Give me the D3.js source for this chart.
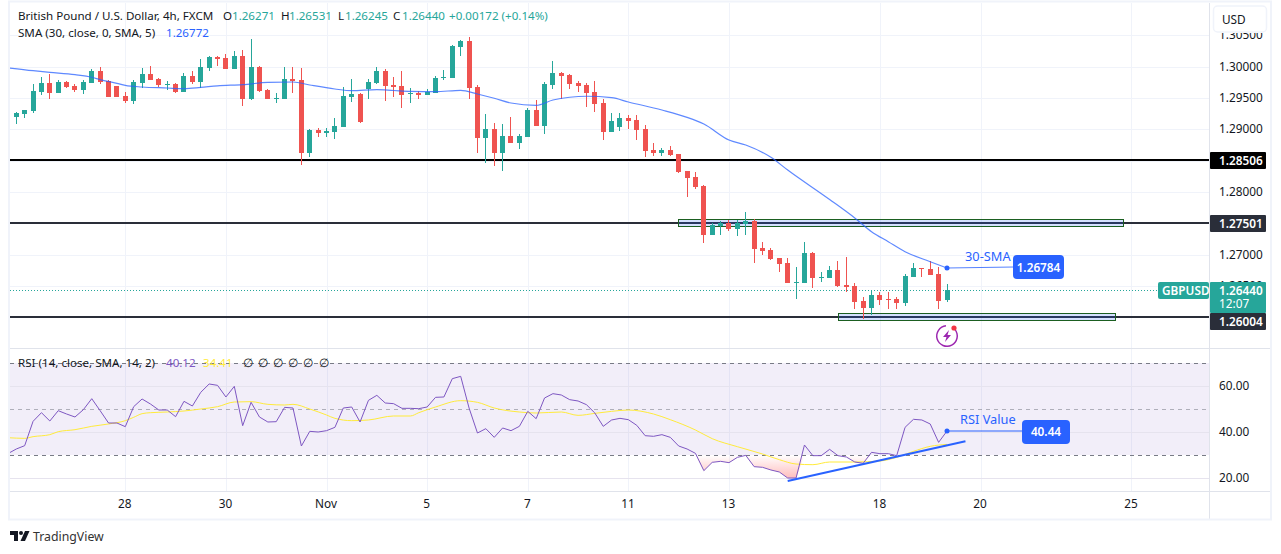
<!DOCTYPE html>
<html>
<head>
<meta charset="utf-8">
<title>GBPUSD 4h</title>
<script src="https://cdn.jsdelivr.net/npm/d3@7"></script>
<style>
html, body { margin: 0; padding: 0; background: #fff; }
svg { display: block; }
text { font-family: "Noto Sans", sans-serif; fill: #131722; }
</style>
</head>
<body>
<svg id="chart" width="1281" height="554"></svg>
<script>
// candles, one entry per 4h bar
var opens = [1.29194,1.29242,1.29290,1.29593,1.29737,1.29577,1.29753,1.29689,1.29625,1.29737,1.29928,1.29769,1.29689,1.29529,1.29449,1.29737,
  1.29880,1.29801,1.29705,1.29721,1.29593,1.29848,1.29753,1.29976,1.30152,1.30136,1.29960,1.30167,1.29481,1.29992,1.29625,1.29481,
  1.29481,1.29801,1.29785,1.28620,1.28987,1.28939,1.28955,1.29034,1.29513,1.29561,1.29641,1.29737,1.29928,1.29705,1.29689,1.29566,
  1.29577,1.29545,1.29577,1.29817,1.29817,1.30311,1.30407,1.29673,1.28859,1.29003,1.28620,1.28891,1.28779,1.28875,1.29306,1.29051,
  1.29705,1.29896,1.29864,1.29737,1.29705,1.29593,1.29418,1.28955,1.29035,1.29178,1.29146,1.29003,1.28668,1.28620,1.28668,1.28604,
  1.28333,1.28237,1.28093,1.27311,1.27455,1.27503,1.27407,1.27487,1.27535,1.27104,1.27072,1.26944,1.26864,1.26545,1.26545,1.27024,
  1.26625,1.26625,1.26753,1.26513,1.26497,1.26258,1.26147,1.26354,1.26290,1.26290,1.26226,1.26641,1.26785,1.26769,1.26689,1.26271];
var highs = [1.29279,1.29306,1.29721,1.29832,1.29880,1.29785,1.29769,1.29721,1.29785,1.29960,1.29992,1.29785,1.29689,1.29593,1.29785,1.29976,
  1.30008,1.29817,1.29769,1.29737,1.29896,1.29928,1.30120,1.30167,1.30167,1.30199,1.30247,1.30263,1.30439,1.30008,1.29641,1.29577,
  1.29992,1.29992,1.29976,1.29003,1.29018,1.29018,1.29178,1.29673,1.29801,1.29577,1.29801,1.29992,1.29960,1.29832,1.29928,1.29657,
  1.29609,1.29641,1.29848,1.29944,1.30343,1.30423,1.30471,1.29705,1.29242,1.29098,1.29082,1.29194,1.28923,1.29338,1.29465,1.29753,
  1.30088,1.29912,1.29880,1.29769,1.29737,1.29769,1.29481,1.29258,1.29258,1.29226,1.29226,1.29067,1.28779,1.28700,1.28731,1.28604,
  1.28333,1.28317,1.28109,1.27503,1.27535,1.27551,1.27551,1.27678,1.27567,1.27200,1.27104,1.26944,1.26944,1.26801,1.27200,1.27040,
  1.26721,1.26817,1.26896,1.26960,1.26545,1.26322,1.26434,1.26402,1.26402,1.26322,1.26689,1.26864,1.26785,1.26896,1.26801,1.26531];
var lows = [1.29082,1.29178,1.29258,1.29545,1.29481,1.29577,1.29657,1.29593,1.29561,1.29737,1.29721,1.29513,1.29513,1.29418,1.29402,1.29657,
  1.29785,1.29673,1.29625,1.29577,1.29593,1.29721,1.29657,1.29928,1.30008,1.29960,1.29960,1.29370,1.29465,1.29593,1.29481,1.29418,
  1.29481,1.29577,1.28428,1.28556,1.28875,1.28875,1.28843,1.29034,1.29433,1.29098,1.29481,1.29721,1.29449,1.29513,1.29338,1.29418,
  1.29481,1.29545,1.29577,1.29785,1.29817,1.30167,1.29481,1.28620,1.28460,1.28412,1.28333,1.28779,1.28684,1.28875,1.29051,1.28923,
  1.29641,1.29481,1.29641,1.29593,1.29354,1.29274,1.28827,1.28955,1.28971,1.29003,1.28827,1.28556,1.28572,1.28572,1.28572,1.28301,
  1.27918,1.28045,1.27184,1.27311,1.27311,1.27375,1.27295,1.27311,1.26864,1.26992,1.26912,1.26721,1.26545,1.26290,1.26545,1.26466,
  1.26561,1.26625,1.26481,1.26402,1.26130,1.25971,1.26035,1.26194,1.26130,1.26130,1.26178,1.26641,1.26641,1.26673,1.26130,1.26245];
var closes = [1.29258,1.29306,1.29609,1.29737,1.29577,1.29753,1.29673,1.29625,1.29753,1.29928,1.29753,1.29513,1.29513,1.29449,1.29753,1.29880,
  1.29785,1.29705,1.29721,1.29593,1.29848,1.29753,1.29992,1.30152,1.30125,1.29960,1.30167,1.29481,1.29992,1.29609,1.29481,1.29497,
  1.29801,1.29763,1.28620,1.28987,1.28939,1.28971,1.29050,1.29529,1.29561,1.29114,1.29753,1.29928,1.29689,1.29673,1.29545,1.29582,
  1.29545,1.29593,1.29817,1.29832,1.30327,1.30407,1.29657,1.28859,1.29003,1.28620,1.28891,1.28779,1.28891,1.29306,1.29051,1.29721,
  1.29896,1.29848,1.29721,1.29689,1.29577,1.29402,1.28955,1.29130,1.29178,1.29130,1.28987,1.28652,1.28620,1.28668,1.28588,1.28317,
  1.28221,1.28077,1.27311,1.27471,1.27503,1.27407,1.27503,1.27535,1.27088,1.27056,1.26928,1.26849,1.26545,1.26561,1.27024,1.26625,
  1.26641,1.26753,1.26497,1.26481,1.26242,1.26147,1.26354,1.26274,1.26274,1.26226,1.26657,1.26785,1.26769,1.26673,1.26258,1.26440];

// 30-SMA, read at these bars
var smaBars = [-1,2,4,7,9,10,12,13,15,18,20,22,24,27,30,33,35,38,40,43,45,47,50,53,55,57,59,62,64,66,68,71,73,77,80,82,85,87,90,92,97,100,102,104,106,109,111];
var smaVals = [1.29979,1.29933,1.29907,1.29869,1.29828,1.29791,1.29732,1.29698,1.29673,1.29657,1.29646,1.29666,1.29692,1.29710,1.29748,1.29753,1.29705,1.29641,1.29614,1.29630,1.29617,1.29604,1.29598,1.29620,1.29561,1.29493,1.29418,1.29381,1.29465,1.29509,1.29525,1.29502,1.29434,1.29306,1.29189,1.29082,1.28827,1.28747,1.28551,1.28348,1.27878,1.27583,1.27364,1.27204,1.27045,1.26885,1.26784];

// RSI per bar, first entry is the bar before the first candle
var rsiVals = [30.58,32.61,34.06,44.64,48.40,44.78,49.27,47.82,46.52,49.71,54.49,49.27,43.91,43.91,42.32,51.01,54.35,52.17,49.56,49.56,46.67,53.33,51.30,57.25,60.87,60.29,55.22,59.85,42.75,52.90,46.52,44.35,44.49,50.72,50.43,33.91,40.29,40.00,40.58,42.03,50.43,50.87,44.35,53.77,55.94,52.61,52.32,50.29,50.29,50.14,
  50.87,55.07,55.22,63.19,64.20,50.43,39.56,41.45,37.68,41.74,40.58,42.46,48.98,45.80,54.78,56.67,56.09,54.06,53.48,51.88,48.26,42.46,45.22,45.94,45.36,42.90,38.40,38.12,38.84,37.68,33.91,32.61,30.72,23.19,26.81,27.25,26.67,28.98,29.85,24.93,24.64,23.48,22.61,20.00,20.00,34.35,29.71,29.71,32.46,29.71,29.13,26.96,26.38,31.16,30.58,30.58,29.71,42.03,45.51,45.22,43.48,35.50,40.44];

// RSI moving average, read at these bars
var maBars = [-1,1,2,4,5,7,9,11,13,14,15,16,18,20,22,24,26,28,30,32,33,35,37,38,40,42,45,47,48,50,53,55,57,60,62,65,67,69,71,73,76,78,81,83,86,89,91,93,95,97,100,103,105,107,109,111];
var maVals = [37.53,37.24,37.97,38.84,40.14,41.01,42.46,43.48,44.93,46.38,47.97,48.40,48.69,49.13,50.00,51.01,53.04,53.19,52.03,51.74,52.03,50.00,47.39,45.94,44.93,45.22,46.96,46.96,48.40,50.87,53.62,52.90,50.43,48.69,48.26,48.69,47.24,48.11,48.98,49.56,47.82,45.36,40.87,37.10,33.62,30.43,27.97,26.08,25.79,26.95,26.95,27.39,28.98,31.59,33.77,34.60];

// axes
var priceTicks = [1.305,1.30,1.295,1.29,1.28,1.27,1.265];
var priceGrid = [1.305,1.30,1.295,1.29,1.285,1.28,1.275,1.27,1.265,1.26];
var rsiTicks = [60,40,20];
var timeBars = [13,25,37,49,61,73,85,103,115,133];
var timeLabels = ["28","30","Nov","5","7","11","13","18","20","25"];

// drawings
var levels = [1.28506,1.27501,1.26004];
var levelColors = ["#000000","#2a2e39","#2a2e39"];
var lastPrice = 1.2644;

var paneL = 10, paneR = 1209, paneT = 3, paneB = 348, rsiB = 491, axisB = 519;

var x = d3.scaleLinear().domain([0,111]).range([16.3,947]);
var y = d3.scaleLinear().domain([1.30,1.27]).range([66.5,254.5]);
var yRsi = d3.scaleLinear().domain([60,20]).range([386,478]);

var svg = d3.select("#chart");
var defs = svg.append("defs");
defs.append("clipPath").attr("id","mainClip").append("rect")
  .attr("x",paneL).attr("y",paneT).attr("width",paneR-paneL).attr("height",paneB-paneT);
defs.append("clipPath").attr("id","rsiClip").append("rect")
  .attr("x",paneL).attr("y",paneB).attr("width",paneR-paneL).attr("height",rsiB-paneB);
var grad = defs.append("linearGradient").attr("id","oversold")
  .attr("gradientUnits","userSpaceOnUse").attr("x1",0).attr("x2",0).attr("y1",yRsi(30)).attr("y2",yRsi(20));
grad.append("stop").attr("offset",0).attr("stop-color","#ff5252").attr("stop-opacity",0);
grad.append("stop").attr("offset",1).attr("stop-color","#ff5252").attr("stop-opacity",0.38);

var snap = function(v){ return Math.round(v)+0.5; };

// vertical and horizontal grid
svg.append("g").selectAll("line").data(timeBars).enter().append("line")
  .attr("x1",function(d){ return snap(x(d)); }).attr("x2",function(d){ return snap(x(d)); })
  .attr("y1",paneT).attr("y2",rsiB).attr("stroke","#f0f3fa");
svg.append("g").selectAll("line").data(priceGrid).enter().append("line")
  .attr("x1",paneL).attr("x2",paneR)
  .attr("y1",function(d){ return snap(y(d)); }).attr("y2",function(d){ return snap(y(d)); })
  .attr("stroke","#f0f3fa");

// rsi band
svg.append("rect").attr("x",paneL).attr("width",paneR-paneL)
  .attr("y",yRsi(70)).attr("height",yRsi(30)-yRsi(70)).attr("fill","#7e57c2").attr("opacity",0.1);
svg.append("g").selectAll("line").data(rsiTicks).enter().append("line")
  .attr("x1",paneL).attr("x2",paneR)
  .attr("y1",function(d){ return snap(yRsi(d)); }).attr("y2",function(d){ return snap(yRsi(d)); })
  .attr("stroke","#e6e3ee");
svg.append("g").selectAll("line").data([70,50,30]).enter().append("line")
  .attr("x1",paneL).attr("x2",paneR)
  .attr("y1",function(d){ return snap(yRsi(d)); }).attr("y2",function(d){ return snap(yRsi(d)); })
  .attr("stroke","#787b86").attr("stroke-dasharray","4 4").attr("stroke-opacity",function(d){ return d==50 ? 0.55 : 1; });

// support and resistance zones and lines
var zones = svg.append("g").attr("clip-path","url(#mainClip)");
zones.selectAll("line").data(levels).enter().append("line")
  .attr("x1",paneL).attr("x2",paneR)
  .attr("y1",function(d){ return y(d); }).attr("y2",function(d){ return y(d); })
  .attr("stroke",function(d,i){ return levelColors[i]; }).attr("stroke-width",2);
zones.append("rect").attr("x",678.5).attr("y",219.5).attr("width",445).attr("height",7)
  .attr("fill","#2962ff").attr("fill-opacity",0.2).attr("stroke","#1b5e20");
zones.append("rect").attr("x",838.5).attr("y",313.5).attr("width",277).attr("height",7)
  .attr("fill","#2962ff").attr("fill-opacity",0.2).attr("stroke","#1b5e20");

// last price dotted line
svg.append("line").attr("x1",paneL).attr("x2",1158)
  .attr("y1",snap(y(lastPrice))).attr("y2",snap(y(lastPrice)))
  .attr("stroke","#26a69a").attr("stroke-dasharray","1 2");

// candles
var bars = svg.append("g").attr("clip-path","url(#mainClip)")
  .selectAll("g").data(d3.range(opens.length)).enter().append("g")
  .attr("shape-rendering","crispEdges")
  .attr("fill",function(i){ return closes[i] >= opens[i] ? "#26a69a" : "#ef5350"; });
bars.append("rect")
  .attr("x",function(i){ return Math.round(x(i)-0.5); }).attr("width",1)
  .attr("y",function(i){ return y(highs[i]); })
  .attr("height",function(i){ return y(lows[i])-y(highs[i]); });
bars.append("rect")
  .attr("x",function(i){ return Math.round(x(i)-0.5)-2; }).attr("width",5)
  .attr("y",function(i){ return y(Math.max(opens[i],closes[i])); })
  .attr("height",function(i){ return Math.max(1,Math.abs(y(opens[i])-y(closes[i]))); });

// sma line
var smaLine = d3.line()
  .x(function(d){ return x(smaBars[d]); })
  .y(function(d){ return y(smaVals[d]); })
  .curve(d3.curveMonotoneX);
svg.append("path").attr("clip-path","url(#mainClip)").datum(d3.range(smaBars.length))
  .attr("d",smaLine).attr("fill","none").attr("stroke","#2962ff").attr("stroke-opacity",0.75).attr("stroke-width",1.2);

// rsi oversold fill, ma and rsi
var rsiClip = svg.append("g").attr("clip-path","url(#rsiClip)");
var area = d3.area()
  .x(function(d,k){ return x(k-1); })
  .y0(yRsi(30))
  .y1(function(d){ return yRsi(Math.min(d,30)); });
rsiClip.append("path").datum(rsiVals).attr("d",area).attr("fill","url(#oversold)");
var maLine = d3.line()
  .x(function(d){ return x(maBars[d]); })
  .y(function(d){ return yRsi(maVals[d]); })
  .curve(d3.curveMonotoneX);
rsiClip.append("path").datum(d3.range(maBars.length)).attr("d",maLine)
  .attr("fill","none").attr("stroke","#ffeb3b").attr("stroke-width",1);
var rsiLine = d3.line()
  .x(function(d,k){ return x(k-1); })
  .y(function(d){ return yRsi(d); });
rsiClip.append("path").datum(rsiVals).attr("d",rsiLine)
  .attr("fill","none").attr("stroke","#7e57c2").attr("stroke-width",1);

// trend line on rsi
svg.append("line")
  .attr("x1",x(92.0)).attr("y1",yRsi(18.7))
  .attr("x2",x(113.2)).attr("y2",yRsi(36))
  .attr("stroke","#2962ff").attr("stroke-width",2);

// frame
var frame = svg.append("g").attr("stroke","#e0e3eb").attr("fill","none");
frame.append("line").attr("x1",paneL).attr("x2",1271).attr("y1",paneB+0.5).attr("y2",paneB+0.5);
frame.append("line").attr("x1",paneL).attr("x2",1271).attr("y1",rsiB+0.5).attr("y2",rsiB+0.5);
frame.append("line").attr("x1",paneR+0.5).attr("x2",paneR+0.5).attr("y1",paneT).attr("y2",axisB);
svg.append("rect").attr("x",9).attr("y",1.5).attr("width",1262).attr("height",518)
  .attr("fill","none").attr("stroke","#f0f3fa").attr("stroke-width",2);

// axes
var priceAxis = d3.axisRight(y).tickValues(priceTicks).tickFormat(d3.format(".5f")).tickSize(0).tickPadding(0);
var rsiAxis = d3.axisRight(yRsi).tickValues(rsiTicks).tickFormat(d3.format(".2f")).tickSize(0).tickPadding(0);
var timeAxis = d3.axisBottom(x).tickValues(timeBars).tickFormat(function(d,i){ return timeLabels[i]; }).tickSize(0).tickPadding(0);
var axisFont = 11.8;
[svg.append("g").attr("transform","translate(1219,0)").call(priceAxis),
 svg.append("g").attr("transform","translate(1219,0)").call(rsiAxis),
 svg.append("g").attr("transform","translate(-1,500)").call(timeAxis)].forEach(function(g){
  g.select(".domain").remove();
  g.selectAll("text").attr("font-family",null).style("font-size",axisFont+"px").style("fill","#131722");
});

// price tags on the axis
var tag = function(left,top,w,h,color,radius){
  svg.append("rect").attr("x",left).attr("y",top).attr("width",w).attr("height",h)
    .attr("rx",radius).attr("ry",radius).attr("fill",color);
};
var tagText = function(px,py,str,size,weight,anchor,color){
  svg.append("text").attr("x",px).attr("y",py).text(str)
    .style("font-size",size+"px").style("font-weight",weight||400)
    .style("text-anchor",anchor||"start").style("fill",color||"#fff");
};
// top two levels sit on their own line, the last one is pushed below the price tag
[152,215,313].forEach(function(top,i){
  tag(1210,top,56,17,levelColors[i],1);
  tagText(1219,top+13,d3.format(".5f")(levels[i]),11.8,600);
});
tag(1210,282,56,31,"#26a69a",1);
tag(1158,282,51,17,"#26a69a",2);
tagText(1162,295,"GBPUSD",11.8,600);
tagText(1219,295,"1.26440",11.8,600);
tagText(1219,308,"12:07",11.8,400);

// currency button, hides the top half of the 1.30500 label
svg.append("rect").attr("x",1210).attr("y",3).attr("width",60).attr("height",30).attr("fill","#fff");
svg.append("rect").attr("x",1213.5).attr("y",6).attr("width",53).attr("height",26)
  .attr("rx",4).attr("fill","#fff").attr("stroke","#f0f3fa").attr("stroke-width",1.5);
tagText(1222,24,"USD",11.8,400,"start","#131722");

// annotations
svg.append("line").attr("x1",x(111)).attr("x2",1014).attr("y1",268).attr("y2",267)
  .attr("stroke","#2962ff").attr("stroke-opacity",0.8).attr("stroke-width",1);
svg.append("circle").attr("cx",x(111)).attr("cy",y(smaVals[smaVals.length-1])).attr("r",2.5).attr("fill","#2962ff");
tagText(965,261,"30-SMA",12.8,400,"start","#2962ff");
tag(1013,255,51,24,"#2962ff",4);
tagText(1038.5,271.5,"1.26784",11.8,600,"middle");

svg.append("line").attr("x1",x(111)).attr("x2",1022).attr("y1",yRsi(40.44)).attr("y2",yRsi(40.44))
  .attr("stroke","#2962ff").attr("stroke-opacity",0.5).attr("stroke-width",2);
svg.append("circle").attr("cx",x(111)).attr("cy",yRsi(40.44)).attr("r",2.5).attr("fill","#2962ff");
tagText(960,424,"RSI Value",12.8,400,"start","#2962ff");
tag(1022,420,48,24,"#2962ff",4);
tagText(1046,436,"40.44",11.8,600,"middle");

// lightning icon
var icon = svg.append("g").attr("transform","translate(947,336)");
icon.append("path").attr("d",d3.arc()({innerRadius:9.5,outerRadius:11,startAngle:0.9,endAngle:Math.PI*2-0.1}))
  .attr("fill","#9c27b0");
icon.append("path").attr("d","M2,-6 L-4,1 L-0.5,1 L-2,6 L4,-1 L0.5,-1 Z").attr("fill","#9c27b0");
icon.append("circle").attr("cx",7).attr("cy",-8).attr("r",2.6).attr("fill","#f23645");

// legends
var head = svg.append("g");
var legend = function(px,py,str,color){
  head.append("text").attr("x",px).attr("y",py).text(str)
    .style("font-size","11.6px").style("fill",color||"#131722");
};
legend(18,20,"British Pound / U.S. Dollar, 4h, FXCM");
legend(223,20,"O"); legend(232,20,"1.26271","#26a69a");
legend(281,20,"H"); legend(289,20,"1.26531","#26a69a");
legend(338,20,"L"); legend(345,20,"1.26245","#26a69a");
legend(393,20,"C"); legend(402,20,"1.26440","#26a69a");
legend(449,20,"+0.00172 (+0.14%)","#26a69a");
legend(18,37,"SMA (30, close, 0, SMA, 5)");
legend(166,37,"1.26772","#2962ff");
legend(18,367,"RSI (14, close, SMA, 14, 2)");
legend(166,367,"40.12","#7e57c2");
legend(203,367,"34.41","#ffeb3b");
[243,258,273,288,303,319].forEach(function(px){ legend(px,367,"∅"); });

// logo
var logo = svg.append("g").attr("transform","translate(10,531)").attr("fill","#131722");
logo.append("path").attr("d","M0,0 H8 V10 H4 V4 H0 Z");
logo.append("circle").attr("cx",11).attr("cy",2).attr("r",2);
logo.append("path").attr("d","M15,0 H19.5 L15,10 H10.5 Z");
svg.append("text").attr("x",33).attr("y",540.5).text("TradingView").style("font-size","12.3px").style("fill","#333");
</script>
</body>
</html>
